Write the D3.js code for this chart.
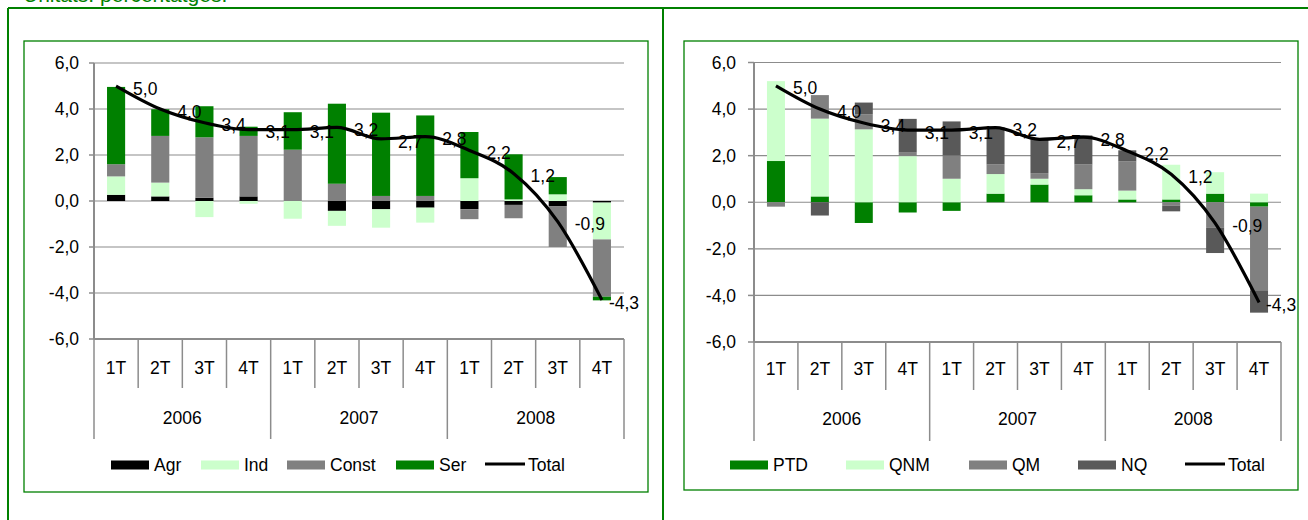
<!DOCTYPE html>
<html>
<head>
<meta charset="utf-8">
<script src="https://cdn.jsdelivr.net/npm/d3@7/dist/d3.min.js"></script>
<style>
  body { margin: 0; background: #fff; }
  svg text { font-family: "Liberation Sans", Arial, sans-serif; fill: #000; }
</style>
</head>
<body>
<svg id="chart" width="1308" height="520"></svg>
<script>
// categories
const quarters = ["1T", "2T", "3T", "4T", "1T", "2T", "3T", "4T", "1T", "2T", "3T", "4T"];
const years = ["2006", "2007", "2008"];
const yTicks = [6, 4, 2, 0, -2, -4, -6];

// total growth (line)
const total = [5.0, 4.0, 3.4, 3.1, 3.1, 3.2, 2.7, 2.8, 2.2, 1.2, -0.9, -4.3];

// left chart: contribution by sector
const agr   = [0.27, 0.20, 0.14, 0.20, 0.00, -0.43, -0.36, -0.29, -0.36, -0.17, -0.22, -0.07];
const ind   = [0.80, 0.60, -0.70, -0.12, -0.77, -0.65, -0.80, -0.65, 0.99, 0.07, 0.29, -1.60];
const cons  = [0.53, 2.03, 2.63, 2.63, 2.23, 0.75, 0.22, 0.22, -0.43, -0.58, -1.78, -2.49];
const ser   = [3.36, 1.16, 1.35, 0.40, 1.63, 3.48, 3.62, 3.50, 2.01, 1.96, 0.75, -0.16];

// right chart: contribution by component
const ptd = [1.77, 0.25, -0.89, -0.44, -0.37, 0.37, 0.76, 0.30, 0.12, 0.12, 0.37, -0.19];
const qnm = [3.43, 3.34, 3.13, 1.98, 1.01, 0.84, 0.25, 0.26, 0.38, 1.49, 0.92, 0.37];
const qm  = [-0.19, 1.01, 0.65, 0.15, 1.00, 0.41, 0.24, 1.06, 1.25, -0.14, -1.10, -3.59];
const nq  = [0.00, -0.57, 0.50, 1.45, 1.46, 1.60, 1.48, 1.25, 0.48, -0.25, -1.08, -0.96];

const locale = d3.formatLocale({ decimal: ",", thousands: ".", grouping: [3], currency: ["", "€"], minus: "-" });
const fmt = locale.format(".1f");

const svg = d3.select("#chart");
const GREEN = "#008000";

// page frame (table cells)
svg.append("text")
    .attr("x", 23).attr("y", 1.5)
    .style("font-size", "21px")
    .style("fill", GREEN)
    .text("Unitats: percentatges.");
svg.append("line").attr("x1", 8).attr("x2", 1308).attr("y1", 8).attr("y2", 8)
    .attr("stroke", GREEN).attr("stroke-width", 2);
svg.append("line").attr("x1", 8).attr("x2", 8).attr("y1", 8).attr("y2", 520)
    .attr("stroke", GREEN).attr("stroke-width", 2);
svg.append("line").attr("x1", 663).attr("x2", 663).attr("y1", 8).attr("y2", 520)
    .attr("stroke", GREEN).attr("stroke-width", 2);

function drawChart(cfg) {

  const g = svg.append("g");

  // chart border
  g.append("rect")
      .attr("x", cfg.box[0]).attr("y", cfg.box[1])
      .attr("width", cfg.box[2]).attr("height", cfg.box[3])
      .attr("fill", "#fff")
      .attr("stroke", GREEN).attr("stroke-width", 1.3);

  // scales
  const x = d3.scaleBand()
      .domain(d3.range(quarters.length))
      .range([cfg.left, cfg.right]);
  const y = d3.scaleLinear()
      .domain([-6, 6])
      .range([cfg.bottom, cfg.top]);
  const bw = x.bandwidth() * 0.41;
  const cx = (i) => x(i) + x.bandwidth() / 2;

  // gridlines
  g.append("g").selectAll("line")
      .data(yTicks.filter((d) => d > -6))
    .enter().append("line")
      .attr("x1", cfg.left).attr("x2", cfg.right)
      .attr("y1", (d) => y(d)).attr("y2", (d) => y(d))
      .attr("stroke", "#8c8c8c").attr("stroke-width", 1.2);

  // stacked bars (positive up, negative down, like Excel)
  const keys = cfg.series.map((s) => s.name);
  const rows = quarters.map((q, i) => {
    const r = {};
    cfg.series.forEach((s) => { r[s.name] = s.values[i]; });
    return r;
  });
  const stacked = d3.stack().keys(keys).offset(d3.stackOffsetDiverging)(rows);
  const colorOf = {};
  cfg.series.forEach((s) => { colorOf[s.name] = s.color; });

  g.append("g").selectAll("g")
      .data(stacked)
    .enter().append("g")
      .attr("fill", (d) => colorOf[d.key])
    .selectAll("rect")
      .data((d) => d)
    .enter().append("rect")
      .attr("x", (d, i) => cx(i) - bw / 2)
      .attr("width", bw)
      .attr("y", (d) => y(Math.max(d[0], d[1])))
      .attr("height", (d) => Math.abs(y(d[0]) - y(d[1])));

  // value axis
  const yAxis = g.append("g");
  yAxis.append("line")
      .attr("x1", cfg.left).attr("x2", cfg.left)
      .attr("y1", y(6)).attr("y2", y(-6))
      .attr("stroke", "#8c8c8c").attr("stroke-width", 2);
  yAxis.selectAll(".tick")
      .data(yTicks)
    .enter().append("line")
      .attr("x1", cfg.left - cfg.tickSize).attr("x2", cfg.left)
      .attr("y1", (d) => y(d)).attr("y2", (d) => y(d))
      .attr("stroke", "#8c8c8c").attr("stroke-width", 1.5);
  yAxis.selectAll("text")
      .data(yTicks)
    .enter().append("text")
      .attr("x", cfg.labelX)
      .attr("y", (d) => y(d))
      .attr("dy", "0.35em")
      .attr("text-anchor", "end")
      .style("font-size", "17.5px")
      .text((d) => fmt(d));

  // category axis (two levels)
  const xAxis = g.append("g");
  xAxis.append("line")
      .attr("x1", cfg.left).attr("x2", cfg.right)
      .attr("y1", y(-6)).attr("y2", y(-6))
      .attr("stroke", "#8c8c8c").attr("stroke-width", 2);
  xAxis.selectAll(".sep")
      .data(d3.range(quarters.length + 1))
    .enter().append("line")
      .attr("x1", (k) => cfg.left + k * x.step())
      .attr("x2", (k) => cfg.left + k * x.step())
      .attr("y1", y(-6))
      .attr("y2", (k) => (k % 4 === 0) ? cfg.yearTickEnd : cfg.quarterTickEnd)
      .attr("stroke", "#8c8c8c").attr("stroke-width", 1.5);
  xAxis.selectAll(".q")
      .data(quarters)
    .enter().append("text")
      .attr("x", (d, i) => cx(i))
      .attr("y", cfg.quarterY)
      .attr("dy", "0.35em")
      .attr("text-anchor", "middle")
      .style("font-size", "17.5px")
      .text((d) => d);
  xAxis.selectAll(".yr")
      .data(years)
    .enter().append("text")
      .attr("x", (d, k) => cfg.left + (k * 4 + 2) * x.step())
      .attr("y", cfg.yearY)
      .attr("dy", "0.35em")
      .attr("text-anchor", "middle")
      .style("font-size", "17.5px")
      .text((d) => d);

  // total line
  const line = d3.line()
      .curve(d3.curveMonotoneX)
      .x((d, i) => cx(i))
      .y((d) => y(d));
  g.append("path")
      .attr("d", line(total))
      .attr("fill", "none")
      .attr("stroke", "#000")
      .attr("stroke-width", 3.2)
      .attr("stroke-linejoin", "round");

  // data labels of the total
  g.append("g").selectAll("text")
      .data(total)
    .enter().append("text")
      .attr("x", (d, i) => cx(i) + (i === total.length - 1 ? 7 : 17))
      .attr("y", (d) => y(d) + 2.5)
      .attr("dy", "0.35em")
      .style("font-size", "17.5px")
      .text((d) => fmt(d));

  // legend
  const leg = g.append("g");
  cfg.series.forEach((s, k) => {
    leg.append("rect")
        .attr("x", cfg.legendX[k]).attr("y", cfg.legendY - 4.5)
        .attr("width", 38).attr("height", 9)
        .attr("fill", s.color);
    leg.append("text")
        .attr("x", cfg.legendX[k] + 43).attr("y", cfg.legendY)
        .attr("dy", "0.35em")
        .style("font-size", "17.5px")
        .text(s.name);
  });
  const lx = cfg.legendX[cfg.series.length];
  leg.append("line")
      .attr("x1", lx).attr("x2", lx + 40)
      .attr("y1", cfg.legendY - 1).attr("y2", cfg.legendY - 1)
      .attr("stroke", "#000").attr("stroke-width", 3);
  leg.append("text")
      .attr("x", lx + 43).attr("y", cfg.legendY)
      .attr("dy", "0.35em")
      .style("font-size", "17.5px")
      .text("Total");
}

drawChart({
  box: [24, 41, 624, 451],
  left: 94, right: 624, top: 63, bottom: 339,
  tickSize: 5, labelX: 79,
  quarterY: 368, yearY: 418, quarterTickEnd: 388, yearTickEnd: 439,
  legendX: [111, 201, 287, 396, 485], legendY: 465,
  series: [
    { name: "Agr",   values: agr,  color: "#000000" },
    { name: "Ind",   values: ind,  color: "#ccffcc" },
    { name: "Const", values: cons, color: "#808080" },
    { name: "Ser",   values: ser,  color: "#008000" }
  ]
});

drawChart({
  box: [684, 41, 614, 449],
  left: 754, right: 1281, top: 62.5, bottom: 342,
  tickSize: 6, labelX: 736,
  quarterY: 369, yearY: 419, quarterTickEnd: 390, yearTickEnd: 441,
  legendX: [730, 846, 969, 1078, 1185], legendY: 465,
  series: [
    { name: "PTD", values: ptd, color: "#008000" },
    { name: "QNM", values: qnm, color: "#ccffcc" },
    { name: "QM",  values: qm,  color: "#808080" },
    { name: "NQ",  values: nq,  color: "#595959" }
  ]
});
</script>
</body>
</html>
